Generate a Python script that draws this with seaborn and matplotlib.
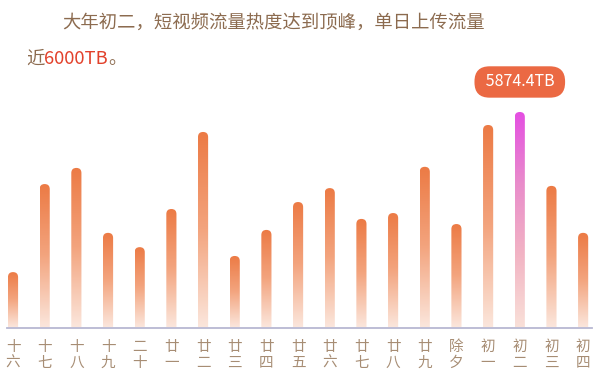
import numpy as np
import matplotlib
matplotlib.use('Agg')
import matplotlib.pyplot as plt
from matplotlib.colors import LinearSegmentedColormap
from matplotlib.patches import FancyBboxPatch
import seaborn as sns

# 春节前后每日短视频上传流量 (TB)
days = ['十六', '十七', '十八', '十九', '二十', '廿一', '廿二', '廿三', '廿四', '廿五',
        '廿六', '廿七', '廿八', '廿九', '除夕', '初一', '初二', '初三', '初四']
traffic = [1510, 3910, 4350, 2580, 2190, 3230, 5330, 1950, 2660, 3420,
           3800, 2960, 3120, 4380, 2820, 5520, 5874.4, 3860, 2580]
peak_day = '初二'

sns.set_style('white')
plt.rcParams['font.family'] = ['Noto Sans CJK SC', 'DejaVu Sans']

brown = '#8c6b4f'
fig = plt.figure(figsize=(6, 3.92), dpi=100)
ax = fig.add_axes([7 / 600, 1 - 327.5 / 392, 585 / 600, 227.5 / 392])

sns.barplot(x=days, y=traffic, order=days, width=0.32, color='#ed7b45', ax=ax)
ax.set_xlim(-0.19, 18.28)
ax.set_ylim(0, 6201)

# 每根柱子：圆头 + 自上而下的渐变
orange = LinearSegmentedColormap.from_list('o', ['#fbe6dc', '#f3a47e', '#ec7a44'])
pink = LinearSegmentedColormap.from_list('p', ['#f9e0d8', '#f2b4c4', '#e98ccb', '#e44ee2'])
px_x = (18.28 + 0.19) / 585
px_y = 6201 / 227.5
aspect = px_y / px_x
grad = np.linspace(0, 1, 256).reshape(-1, 1)
for day, p in zip(days, list(ax.patches)):
    x0, w, h = p.get_x(), p.get_width(), p.get_height()
    p.set_visible(False)
    r = w / 2
    shape = FancyBboxPatch((x0, -r * aspect), w, h + r * aspect,
                           boxstyle=f'round,pad=0,rounding_size={r}',
                           mutation_aspect=aspect, fc='none', ec='none')
    ax.add_patch(shape)
    im = ax.imshow(grad, extent=[x0, x0 + w, 0, h], origin='lower', aspect='auto',
                   cmap=pink if day == peak_day else orange, interpolation='bilinear')
    im.set_clip_path(shape)
ax.set_xlim(-0.19, 18.28)
ax.set_ylim(0, 6201)

peak = traffic[days.index(peak_day)]
ax.annotate(f' {peak}TB ', xy=(days.index(peak_day), peak), xytext=(0, 30),
            textcoords='offset pixels', ha='center', va='center', fontsize=11.5,
            color='white',
            bbox=dict(boxstyle='round,pad=0.45,rounding_size=0.95', fc='#eb6943', ec='none'))

ax.set_xticks(range(len(days)))
ax.set_xticklabels(['\n'.join(d) for d in days], fontsize=10.5, color='#a78d74',
                   linespacing=1.15)
ax.tick_params(axis='x', direction='in', length=3, width=0.8, color='#9c9cb4', pad=9)
ax.set_yticks([])
ax.set_xlabel('')
for s in ['top', 'right', 'left']:
    ax.spines[s].set_visible(False)
ax.spines['bottom'].set_color('#b8b8d2')
ax.spines['bottom'].set_linewidth(1.3)

fig.text(62 / 600, 1 - 23 / 392, '大年初二，短视频流量热度达到顶峰，单日上传流量',
         fontsize=13.2, color=brown, va='center', ha='left')
t1 = fig.text(26 / 600, 1 - 64 / 392, '近', fontsize=13.2, color=brown,
              va='baseline', ha='left')
t2 = ax.annotate('6000TB', xy=(1, 0), xycoords=t1, va='bottom', ha='left',
                 fontsize=13.2, color='#e2412b', annotation_clip=False)
ax.annotate('。', xy=(1, 0), xycoords=t2, va='bottom', ha='left',
            fontsize=13.2, color=brown, annotation_clip=False)

fig.savefig('out.png', dpi=100)
